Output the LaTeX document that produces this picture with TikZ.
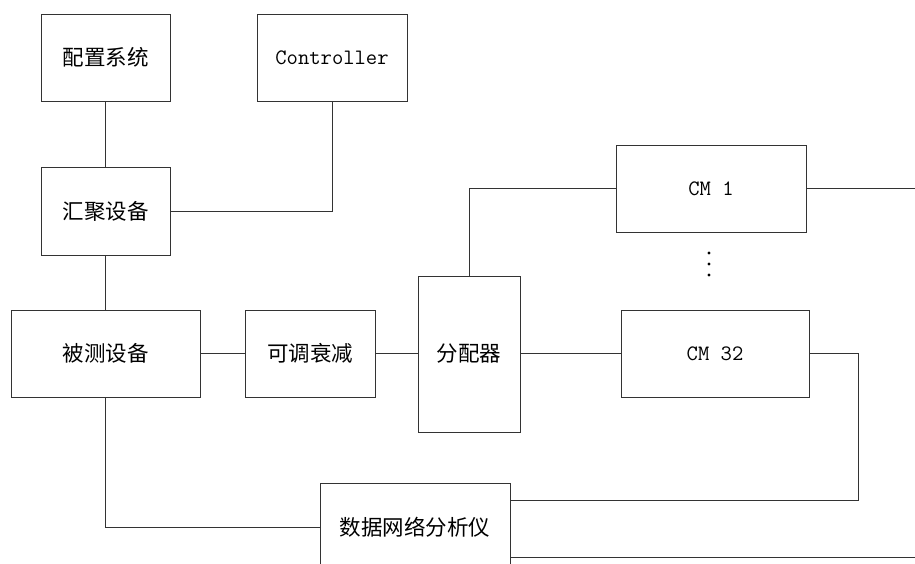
\documentclass[tikz,border=0pt]{standalone}
\usepackage{fontspec}
\newfontfamily\cjk{Noto Sans CJK SC}
\begin{document}
\begin{tikzpicture}[x=1pt,y=-1pt,
  box/.style={draw=black!80,line width=0.9pt,inner sep=0pt,align=center,
    font=\cjk\fontsize{21.5}{25}\selectfont},
  mono/.style={font=\ttfamily\fontsize{22}{26}\selectfont},
  wire/.style={draw=black!80,line width=0.9pt}]
\clip (0,0) rectangle (915,564);
\fill[white] (0,0) rectangle (915,564);
\node[box,minimum width=129pt,minimum height=87pt] (pz) at (105.5,57.5) {配置系统};
\node[box,mono,minimum width=150pt,minimum height=87pt] (ctrl) at (332,57.5) {Controller};
\node[box,minimum width=129pt,minimum height=88pt] (hj) at (105.5,211) {汇聚设备};
\node[box,minimum width=189pt,minimum height=87pt] (bc) at (105.5,353.5) {被测设备};
\node[box,minimum width=130pt,minimum height=87pt] (ts) at (310,353.5) {可调衰减};
\node[box,minimum width=102pt,minimum height=156pt] (fp) at (469,354) {分配器};
\node[box,mono,minimum width=190pt,minimum height=87pt] (cm1) at (711,188.5) {CM 1};
\node[box,mono,minimum width=188pt,minimum height=87pt] (cm32) at (715,353.5) {CM 32};
\node[box,minimum width=190pt,minimum height=88pt] (sj) at (415,527) {数据网络分析仪};
\coordinate (e1) at (915,188.5);
\coordinate (r1) at (858,500);
\coordinate (e2) at (915,557);
\fill[black] (709,253) circle (1.6pt) (709,264) circle (1.6pt) (709,275) circle (1.6pt);
\draw[wire] (pz.south) -- (hj.north);
\draw[wire] (hj.east) -| (ctrl.south);
\draw[wire] (hj.south) -- (bc.north);
\draw[wire] (bc.east) -- (ts.west);
\draw[wire] (ts.east) -- (ts.east -| fp.west);
\draw[wire] (fp.north) |- (cm1.west);
\draw[wire] (cm1.east) -- (e1);
\draw[wire] (cm32.west -| fp.east) -- (cm32.west);
\draw[wire] (cm32.east) -| (r1) -- (sj.east |- r1);
\draw[wire] (sj.east |- e2) -- (e2);
\draw[wire] (bc.south) |- (sj.west);
\end{tikzpicture}
\end{document}
